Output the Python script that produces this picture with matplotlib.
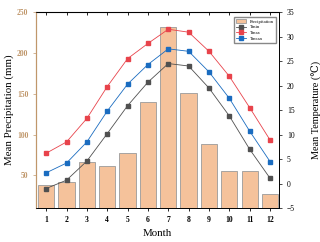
import matplotlib.pyplot as plt
import numpy as np

plt.rcParams['font.family'] = ['Liberation Serif', 'DejaVu Serif']

months = np.arange(1, 13)
precip = [38, 42, 66, 62, 77, 140, 232, 151, 89, 56, 56, 27]
tmin = [-1.0, 0.7, 4.6, 10.2, 15.9, 20.7, 24.5, 24.0, 19.5, 13.8, 7.0, 1.1]
tmax = [6.2, 8.5, 13.3, 19.8, 25.5, 28.6, 31.5, 30.9, 27.0, 21.9, 15.5, 8.9]
tmean = [2.2, 4.2, 8.5, 14.8, 20.3, 24.3, 27.5, 27.0, 22.8, 17.4, 10.7, 4.5]

tan = '#c0976b'

fig = plt.figure(figsize=(3.2, 2.42), dpi=100)
ax = fig.add_axes([0.1125, 0.14, 0.76, 0.81])
ax2 = ax.twinx()

bars = ax.bar(months, precip, width=0.8, color='#f5c29b', edgecolor='#9a9a9a',
              linewidth=0.6, label='Precipitation', zorder=1)
ax.set_ylim(10, 250)
ax.set_xlim(0.5, 12.45)
ax.set_xticks(months)
ax.set_yticks([50, 100, 150, 200, 250])
ax.tick_params(axis='y', colors=tan, labelsize=5.5, length=2, width=0.5)
ax.tick_params(axis='x', labelsize=5.5, length=2, width=0.6)
for lab in ax.get_xticklabels():
    lab.set_fontweight('bold')
for lab in ax.get_yticklabels():
    lab.set_fontweight('bold')
ax.spines['left'].set_color(tan)
ax.set_ylabel('Mean Precipitation (mm)', fontsize=7.8, labelpad=2)
ax.set_xlabel('Month', fontsize=7.8, labelpad=4)

# inward ticks on the top spine
top = ax.secondary_xaxis('top')
top.set_xticks(months)
top.tick_params(axis='x', direction='in', length=2.5, width=0.6, labeltop=False)

l1, = ax2.plot(months, tmin, color='#505050', lw=0.6, marker='s', ms=2.3, label='Tmin')
l2, = ax2.plot(months, tmax, color='#e8434b', lw=0.6, marker='s', ms=2.3, label='Tmax')
l3, = ax2.plot(months, tmean, color='#1a6cc0', lw=0.6, marker='s', ms=2.3, label='Tmean')
ax2.set_ylim(-5, 35)
ax2.set_yticks(range(-5, 40, 5))
ax2.tick_params(axis='y', labelsize=5.5, length=2, width=0.5)
ax2.spines['left'].set_color(tan)
ax2.set_ylabel('Mean Temperature (\u2103)', fontsize=7.4, labelpad=12)

for a in (ax, ax2):
    for s in ['top', 'right', 'bottom']:
        a.spines[s].set_linewidth(0.6)
    a.spines['left'].set_linewidth(0.8)

ax2.legend([bars, l1, l2, l3], ['Precipitation', 'Tmin', 'Tmax', 'Tmean'],
           loc='upper right', bbox_to_anchor=(0.995, 0.985), fontsize=3.3,
           frameon=True, fancybox=False, edgecolor='#888888', framealpha=1,
           handlelength=2.2, handleheight=0.8, borderpad=0.4, labelspacing=0.3)

fig.savefig('out.png', dpi=100)
